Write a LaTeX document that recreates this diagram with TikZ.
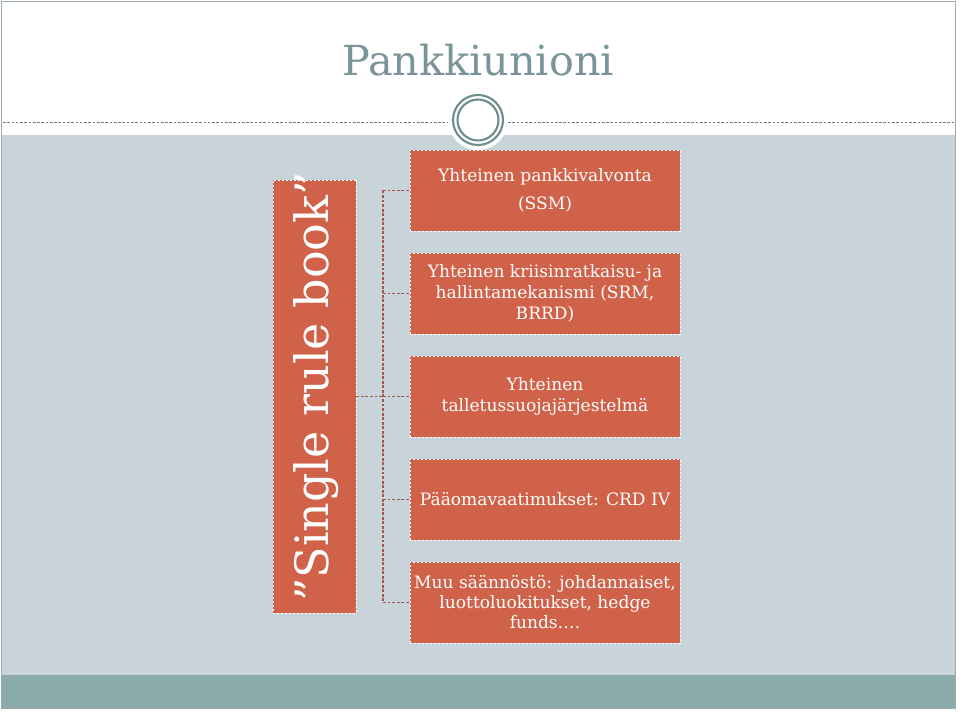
\documentclass[tikz,border=0pt]{standalone}
\usepackage{fontspec}
\setmainfont{DejaVu Serif}
\definecolor{bggray}{HTML}{C8D3DA}
\definecolor{bandteal}{HTML}{8AABAA}
\definecolor{framec}{HTML}{9AACAD}
\definecolor{titlec}{HTML}{7A9598}
\definecolor{ringc}{HTML}{6F8E90}
\definecolor{boxc}{HTML}{D0624A}
\definecolor{connc}{HTML}{A5564E}
\definecolor{dashc}{HTML}{6F7F83}
\tikzset{
  itembox/.style={draw=white, fill=boxc, line width=0.6pt, dash pattern=on 1.8pt off 1.2pt,
    minimum width=202.5pt, minimum height=60.75pt, inner sep=0pt, text=white,
    align=center, font=\fontsize{12.8pt}{15.5pt}\selectfont},
  sidebox/.style={draw=white, fill=boxc, line width=0.6pt, dash pattern=on 1.8pt off 1.2pt,
    minimum width=62.25pt, minimum height=324.75pt, inner sep=0pt},
  conn/.style={draw=connc, line width=1.1pt, dash pattern=on 2.2pt off 1.2pt},
  sepline/.style={draw=dashc, line width=0.7pt, dash pattern=on 2pt off 1.2pt}
}
\begin{document}
\begin{tikzpicture}[x=0.75pt,y=-0.75pt]
\useasboundingbox (0,0) rectangle (960,712);
\fill[white] (0,0) rectangle (960,712);
\fill[bggray] (2,135) rectangle (955,675);
\fill[bandteal] (2,675) rectangle (955,708);
\draw[framec, line width=0.9pt] (1.5,1.5) rectangle (955.5,708.5);
\coordinate (sl1) at (3,122);
\coordinate (sl2) at (448,122);
\coordinate (sr1) at (508,122);
\coordinate (sr2) at (954,122);
\draw[sepline] (sl1) -- (sl2);
\draw[sepline] (sr1) -- (sr2);
\coordinate (cc) at (478,120);
\fill[white] (cc) circle (30);
\draw[ringc, line width=1.6pt] (cc) circle (25);
\draw[ringc, line width=1.6pt] (cc) circle (20.5);
\node[anchor=base, text=titlec, font=\fontsize{31pt}{36pt}\selectfont] (title) at (478,76) {Pankkiunioni};
\node[sidebox] (side) at (314.5,396.5) {};
\node[rotate=90, text=white, font=\fontsize{34.5pt}{40pt}\selectfont, anchor=center] (sidetxt) at (316,387) {”Single rule book”};
\node[itembox, font=\fontsize{12.8pt}{21pt}\selectfont] (b1) at (545,190.5) {Yhteinen pankkivalvonta\\(SSM)};
\node[itembox] (b2) at (545,293.5) {Yhteinen kriisinratkaisu- ja\\hallintamekanismi (SRM,\\BRRD)};
\node[itembox] (b3) at (545,396.5) {Yhteinen\\talletussuojajärjestelmä};
\node[itembox] (b4) at (545,499.5) {Pääomavaatimukset: CRD IV};
\node[itembox, font=\fontsize{12.8pt}{15pt}\selectfont] (b5) at (545,602.5) {Muu säännöstö: johdannaiset,\\luottoluokitukset, hedge\\funds….};
\coordinate (bus) at (383,0);
\draw[conn] (side.east) -- (side.east -| bus);
\draw[conn] (b1.west -| bus) -- (b5.west -| bus);
\foreach \b in {b1,b2,b3,b4,b5} { \draw[conn] (\b.west -| bus) -- (\b.west); }
\end{tikzpicture}
\end{document}
